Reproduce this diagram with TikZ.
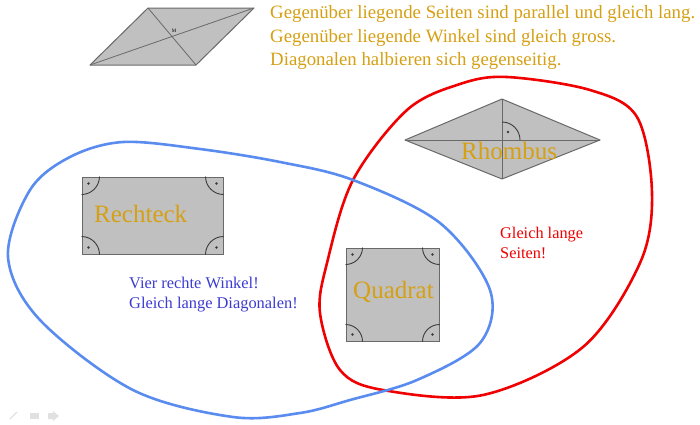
\documentclass[tikz,border=0pt]{standalone}
\usepackage{fontspec}
\setmainfont{Liberation Serif}
\definecolor{labelgold}{RGB}{214,160,20}
\definecolor{figgray}{RGB}{192,192,192}
\definecolor{figline}{RGB}{105,105,105}
\definecolor{markgray}{RGB}{60,60,60}
\definecolor{setblue}{RGB}{90,140,240}
\definecolor{setred}{RGB}{240,0,0}
\definecolor{textblue}{RGB}{60,60,210}
\definecolor{ghost}{RGB}{225,225,225}
\begin{document}
\begin{tikzpicture}[x=1pt,y=-1pt]
\tikzset{figbox/.style = {draw=figline, fill=figgray, line width=1pt, inner sep=0pt}}
\tikzset{figshape/.style = {draw=figline, fill=figgray, line width=1pt, line join=round}}
\tikzset{anglemark/.style = {draw=markgray, line width=0.9pt}}
\tikzset{namelabel/.style = {anchor=base west, inner sep=0pt, text=labelgold, font=\fontsize{25}{30}\selectfont}}
\tikzset{setline/.style = {line width=2.6pt, smooth cycle, tension=0.55}}
\useasboundingbox[fill=white] (0,0) rectangle (700,424);
% Parallelogramm
\coordinate (pa) at (90,65);
\coordinate (pb) at (148,8);
\coordinate (pc) at (254,8);
\coordinate (pd) at (196,65);
\draw[figshape] (pa) -- (pb) -- (pc) -- (pd) -- cycle;
\draw[figline, line width=0.8pt] (pa) -- (pc) (pb) -- (pd);
\node[inner sep=0pt, font=\fontsize{5}{6}\selectfont] (m) at (174,31) {M};
\node[anchor=north west, inner sep=0pt, align=left, text=labelgold,
  font=\fontsize{18.8}{23.3}\selectfont] (props) at (270,5.5)
  {Gegenüber liegende Seiten sind parallel und gleich lang.\\
   Gegenüber liegende Winkel sind gleich gross.\\
   Diagonalen halbieren sich gegenseitig.};
% Rhombus
\coordinate (rl) at (405,140);
\coordinate (rt) at (502,99);
\coordinate (rr) at (600,140);
\coordinate (rb) at (502,179);
\coordinate (rc) at (502,140);
\draw[figshape] (rl) -- (rt) -- (rr) -- (rb) -- cycle;
\draw[figline, line width=0.8pt] (rl) -- (rr) (rt) -- (rb);
\draw[anglemark] ([xshift=18pt]rc) arc[start angle=0, end angle=90, radius=18pt];
\fill[markgray] (508,132) circle[radius=1.3pt];
% Rechteck und Quadrat
\node[figbox, minimum width=141pt, minimum height=77pt] (recht) at (152.5,215.5) {};
\node[figbox, minimum width=93pt, minimum height=93pt] (quad) at (392.5,294.5) {};
\foreach \n/\r in {recht/18, quad/17} {
  \foreach \c/\sx/\sy/\a in {north west/1/-1/0, north east/-1/-1/180,
                             south east/-1/1/180, south west/1/1/0} {
    \draw[anglemark] ([xshift=\sx*\r pt]\n.\c) arc[start angle=\a, delta angle={90*\sx*\sy}, radius=\r pt];
    \fill[markgray] ([shift={(\sx*7pt,\sy*7pt)}]\n.\c) circle[radius=1.3pt];
  }
}
\node[namelabel] (lrecht) at (94,222.7) {Rechteck};
\node[namelabel] (lquad) at (353,298.3) {Quadrat};
\node[namelabel] (lrhomb) at (461,159.3) {Rhombus};
% Mengen
\draw[setline, setred] plot coordinates {(507,77) (590,90) (637,117) (652,193) (640,263)
  (583,347) (483,395) (383,390) (340,370) (320,313) (327,263) (353,180) (407,110) (460,84)};
\draw[setline, setblue] plot coordinates {(123,142) (200,149) (280,162) (353,180) (440,223)
  (490,290) (480,343) (417,380) (350,400) (300,413) (233,417) (133,390) (40,320) (8,257)
  (30,190) (70,157)};
\node[anchor=north west, inner sep=0pt, align=left, text=textblue,
  font=\fontsize{16.4}{20}\selectfont] (rechttext) at (129,276.8)
  {Vier rechte Winkel!\\Gleich lange Diagonalen!};
\node[anchor=north west, inner sep=0pt, align=left, text=setred,
  font=\fontsize{16.3}{19.5}\selectfont] (rhombtext) at (500,227)
  {Gleich lange\\Seiten!};
% Symbolleiste
\draw[ghost, line width=1.2pt] (10,419) -- (17,412);
\fill[ghost] (30,413) rectangle (39,419);
\fill[ghost] (48,413) -- (53,413) -- (53,411) -- (59,416) -- (53,421) -- (53,419) -- (48,419) -- cycle;
\end{tikzpicture}
\end{document}
